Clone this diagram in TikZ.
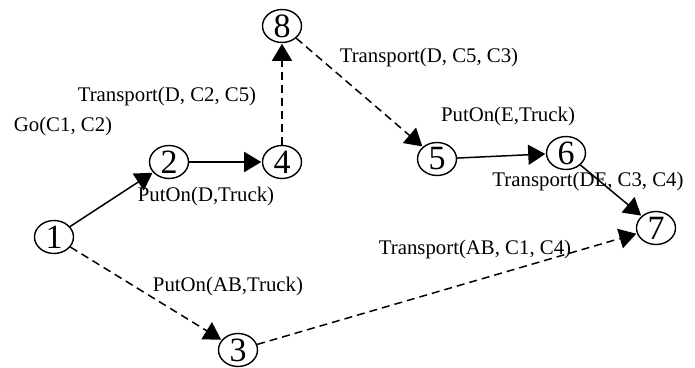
\documentclass[tikz,border=0pt]{standalone}
\usepackage{fontspec}
\setmainfont{Liberation Serif}
\usetikzlibrary{arrows.meta,shapes.geometric}
\begin{document}
\begin{tikzpicture}[x=0.5pt,y=-0.5pt,
  state/.style={draw,ellipse,line width=0.7pt,inner sep=0pt,minimum width=19.5pt,minimum height=16.5pt,font=\fontsize{17}{17}\selectfont},
  act/.style={->,line width=0.75pt,>={Triangle[length=8.5pt,width=10pt]},shorten >=0.3pt},
  dashact/.style={act,dash pattern=on 4pt off 2.5pt},
  every node/.style={font=\fontsize{10.4}{12}\selectfont}]
  \useasboundingbox (0,0) rectangle (695,368);
  \node[state] (n1) at (54,237) {1};
  \node[state] (n2) at (169,162) {2};
  \node[state] (n3) at (238,350) {3};
  \node[state] (n4) at (282,162) {4};
  \node[state] (n5) at (437,159) {5};
  \node[state] (n6) at (566,153) {6};
  \node[state] (n7) at (656,228) {7};
  \node[state] (n8) at (282,26) {8};
  \draw[act] (n1) -- (n2); \draw[act] (n2) -- (n4);
  \draw[dashact] (n4) -- (n8); \draw[dashact] (n8) -- (n5);
  \draw[act] (n5) -- (n6); \draw[act] (n6) -- (n7);
  \draw[dashact] (n1) -- (n3); \draw[dashact] (n3) -- (n7);
  \node (go12) at (63,127) {Go(C1, C2)};
  \node (tr425) at (167,97) {Transport(D, C2, C5)};
  \node (putd) at (206,197) {PutOn(D,Truck)};
  \node (putab) at (228,286) {PutOn(AB,Truck)};
  \node (tr453) at (429,58) {Transport(D, C5, C3)};
  \node (pute) at (508,117) {PutOn(E,Truck)};
  \node (tr334) at (588,182) {Transport(DE, C3, C4)};
  \node (tr114) at (475,250) {Transport(AB, C1, C4)};
\end{tikzpicture}
\end{document}
